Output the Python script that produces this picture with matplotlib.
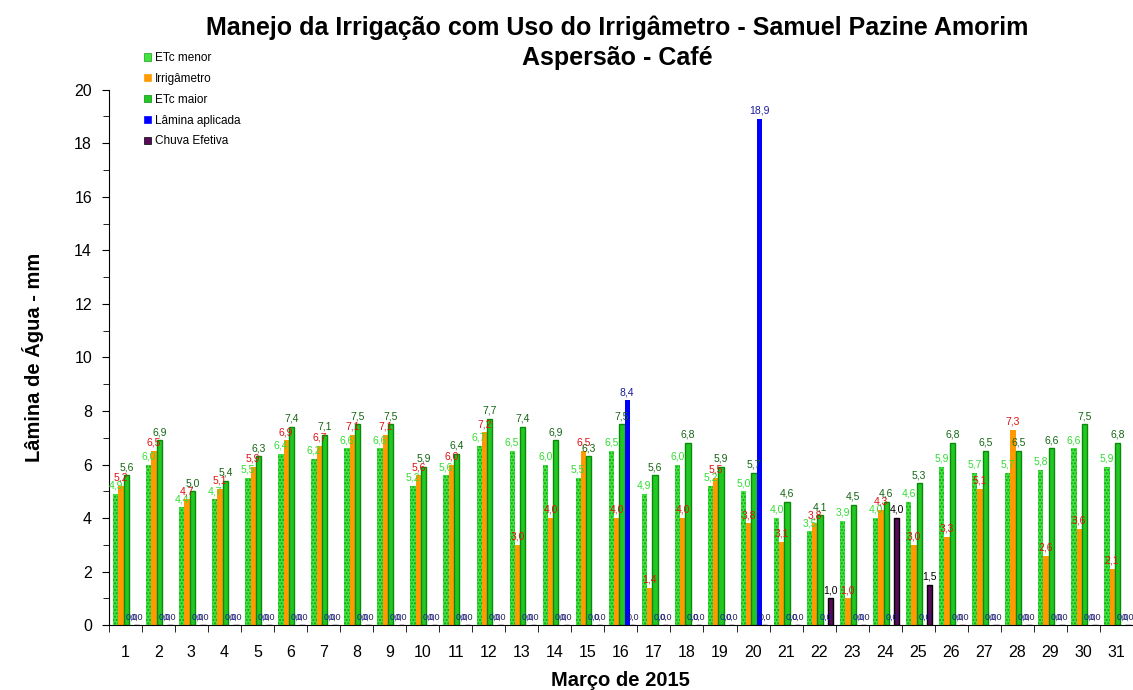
import numpy as np
import matplotlib.pyplot as plt
from matplotlib.patches import Patch
from matplotlib.ticker import MultipleLocator

dias = list(range(1, 32))
etc_menor = [4.9, 6.0, 4.4, 4.7, 5.5, 6.4, 6.2, 6.6, 6.6, 5.2, 5.6, 6.7, 6.5, 6.0, 5.5, 6.5,
             4.9, 6.0, 5.2, 5.0, 4.0, 3.5, 3.9, 4.0, 4.6, 5.9, 5.7, 5.7, 5.8, 6.6, 5.9]
irrigametro = [5.2, 6.5, 4.7, 5.1, 5.9, 6.9, 6.7, 7.1, 7.1, 5.6, 6.0, 7.2, 3.0, 4.0, 6.5, 4.0,
               1.4, 4.0, 5.5, 3.8, 3.1, 3.8, 1.0, 4.3, 3.0, 3.3, 5.1, 7.3, 2.6, 3.6, 2.1]
etc_maior = [5.6, 6.9, 5.0, 5.4, 6.3, 7.4, 7.1, 7.5, 7.5, 5.9, 6.4, 7.7, 7.4, 6.9, 6.3, 7.5,
             5.6, 6.8, 5.9, 5.7, 4.6, 4.1, 4.5, 4.6, 5.3, 6.8, 6.5, 6.5, 6.6, 7.5, 6.8]
lamina = [0, 0, 0, 0, 0, 0, 0, 0, 0, 0, 0, 0, 0, 0, 0, 8.4,
          0, 0, 0, 18.9, 0, 0, 0, 0, 0, 0, 0, 0, 0, 0, 0]
chuva = [0, 0, 0, 0, 0, 0, 0, 0, 0, 0, 0, 0, 0, 0, 0, 0,
         0, 0, 0, 0, 0, 1.0, 0, 4.0, 1.5, 0, 0, 0, 0, 0, 0]

plt.rcParams['font.family'] = ['Liberation Sans', 'DejaVu Sans']

fig = plt.figure(figsize=(11.33, 6.9), dpi=100)
ax = fig.add_axes([0.096, 0.094, 0.904, 0.776])

x = np.arange(len(dias))
w = 0.16
series = [
    ('ETc menor', etc_menor, -0.29, dict(color='#3ee63e', edgecolor='#1c9a1c', hatch='.....', linewidth=0), '#33dd33'),
    ('Irrigâmetro', irrigametro, -0.13, dict(color='#ff9a00', linewidth=0), '#e01010'),
    ('ETc maior', etc_maior, 0.03, dict(color='#22c822', edgecolor='#0a8a0a', linewidth=1.0), '#116611'),
    ('Lâmina aplicada', lamina, 0.19, dict(color='#0000ff', linewidth=0), '#1a1aa0'),
    ('Chuva Efetiva', chuva, 0.35, dict(color='#5a0a5a', edgecolor='black', linewidth=1.0), '#222255'),
]

handles = []
for nome, vals, off, style, lcolor in series:
    ax.bar(x + off, vals, w, zorder=2, **style)
    for xi, v in zip(x, vals):
        txt = f'{v:.1f}'.replace('.', ',')
        c = lcolor
        if nome == 'Chuva Efetiva' and v > 0:
            c = 'black'
        # rotulos de zero ficam menores, como no original se sobrepõem
        fs = 7.5 if v > 0 else 6.5
        ax.text(xi + off, v + 0.12, txt, ha='center', va='bottom', fontsize=fs,
                color=c, zorder=3)
    handles.append(Patch(facecolor=style['color'], edgecolor=style.get('edgecolor', style['color']),
                         linewidth=0.5, label=nome))

ax.set_xlim(-0.5, len(dias) - 0.5)
ax.set_ylim(0, 20)
ax.set_xticks(x)
ax.set_xticklabels(dias, fontsize=11.5)
ax.set_xticks(np.arange(-0.5, len(dias), 1), minor=True)
ax.tick_params(axis='x', which='major', length=0, pad=14)
ax.tick_params(axis='x', which='minor', length=5, direction='out')
ax.yaxis.set_major_locator(MultipleLocator(2))
ax.yaxis.set_minor_locator(MultipleLocator(1))
ax.tick_params(axis='y', which='major', length=5, labelsize=11.5, pad=7)
ax.tick_params(axis='y', which='minor', length=4)
for s in ['top', 'right']:
    ax.spines[s].set_visible(False)

ax.set_ylabel('Lâmina de Água - mm', fontsize=14.5, fontweight='bold', labelpad=22)
ax.set_xlabel('Março de 2015', fontsize=14.5, fontweight='bold', labelpad=8)

fig.text(0.545, 0.938, 'Manejo da Irrigação com Uso do Irrigâmetro - Samuel Pazine Amorim\nAspersão - Café',
         ha='center', va='center', fontsize=18, fontweight='bold', linespacing=1.3)

fig.legend(handles=handles, loc='upper left', bbox_to_anchor=(0.118, 0.94), frameon=False,
           fontsize=8.5, handlelength=0.6, handleheight=0.6, handletextpad=0.3, labelspacing=0.75)

fig.savefig('out.png', dpi=100)
